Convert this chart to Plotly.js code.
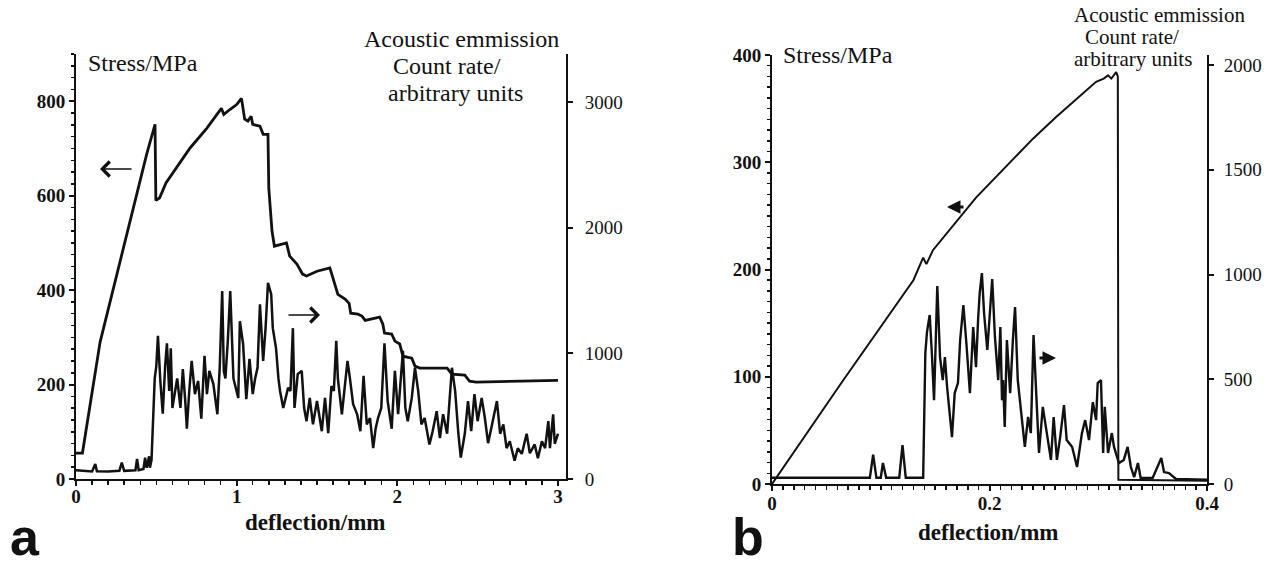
<!DOCTYPE html>
<html>
<head>
<meta charset="utf-8">
<script src="https://cdn.plot.ly/plotly-3.0.1.min.js"></script>
<style>html,body{margin:0;padding:0;background:#fff;}#chart{width:1276px;height:568px;}</style>
</head>
<body>
<div id="chart"></div>
<script>
// ---------- Panel a: stress vs deflection ----------
const aStressDefl = [0,0.04,0.15,0.26,0.355,0.44,0.492,0.497,0.52,0.56,0.71,0.815,0.905,0.92,0.96,1.0,1.03,1.05,1.07,1.09,1.10,1.145,1.165,1.195,1.20,1.22,1.235,1.28,1.31,1.33,1.375,1.41,1.435,1.50,1.58,1.60,1.63,1.675,1.70,1.71,1.755,1.78,1.80,1.89,1.91,1.92,1.965,1.985,2.015,2.035,2.09,2.11,2.14,2.31,2.34,2.42,2.45,2.49,2.74,3.0];
const aStress = [55,55,290,440,574,688,751,590,595,627,701,743,785,772,783,793,806,762,758,768,751,747,730,730,616,525,493,497,500,472,455,434,430,440,447,425,391,381,372,351,349,345,336,343,328,309,307,292,286,260,256,239,235,235,222,220,207,205,207,209];

// ---------- Panel a: acoustic emission count rate ----------
const aAEDefl = [0,0.05,0.10,0.12,0.13,0.20,0.27,0.285,0.30,0.37,0.38,0.39,0.42,0.43,0.44,0.455,0.46,0.47,0.48,0.49,0.50,0.51,0.525,0.54,0.555,0.566,0.58,0.59,0.60,0.615,0.63,0.65,0.665,0.68,0.69,0.705,0.72,0.74,0.76,0.78,0.80,0.815,0.83,0.855,0.88,0.895,0.91,0.92,0.93,0.945,0.96,0.98,1.0,1.01,1.02,1.04,1.06,1.08,1.10,1.115,1.13,1.145,1.165,1.18,1.195,1.215,1.225,1.245,1.26,1.27,1.29,1.32,1.335,1.35,1.36,1.38,1.405,1.42,1.435,1.455,1.475,1.50,1.53,1.55,1.57,1.59,1.605,1.62,1.63,1.655,1.67,1.69,1.705,1.725,1.75,1.77,1.79,1.81,1.83,1.85,1.865,1.88,1.90,1.92,1.94,1.965,1.985,2.005,2.035,2.05,2.065,2.09,2.11,2.13,2.15,2.17,2.20,2.22,2.245,2.265,2.285,2.31,2.34,2.36,2.38,2.395,2.42,2.44,2.46,2.48,2.50,2.525,2.545,2.565,2.59,2.62,2.64,2.66,2.68,2.70,2.73,2.75,2.775,2.805,2.825,2.855,2.875,2.90,2.92,2.94,2.95,2.97,2.98,3.0];
const aAE = [70,65,60,120,62,60,65,130,65,70,160,70,80,170,90,180,90,150,480,800,900,1140,780,520,900,1080,700,1040,565,700,800,565,875,620,400,700,940,675,780,480,980,675,860,755,515,900,1495,860,800,1100,1495,800,700,645,1255,1075,635,955,675,800,885,1390,940,1200,1560,1470,1200,1040,800,700,565,725,700,1200,565,835,860,565,460,645,435,620,380,645,365,740,700,1100,800,515,700,940,800,595,515,380,820,435,485,245,400,485,565,1080,620,400,860,515,1020,565,460,645,885,700,435,485,275,380,540,325,515,360,885,700,360,170,360,620,380,675,460,645,485,285,435,620,360,435,245,300,145,245,200,360,205,275,165,300,245,460,245,515,280,360];

// ---------- Panel b: stress vs deflection ----------
const bStressDefl = [0,0.065,0.13,0.139,0.142,0.145,0.148,0.1876,0.2,0.24,0.261,0.298,0.305,0.309,0.312,0.3165,0.318,0.3185,0.4];
const bStress = [0,96,190,211,205,212,218,267,280,322,342,375,378,381,378,384,380,4,3];

// ---------- Panel b: acoustic emission count rate ----------
const bAEDefl = [0,0.09,0.093,0.096,0.1,0.102,0.105,0.117,0.120,0.123,0.139,0.141,0.1425,0.145,0.147,0.149,0.152,0.1545,0.157,0.159,0.161,0.1655,0.168,0.171,0.173,0.176,0.179,0.182,0.185,0.1876,0.1895,0.191,0.193,0.195,0.198,0.2,0.2025,0.205,0.207,0.208,0.21,0.2115,0.2125,0.214,0.216,0.219,0.2215,0.2235,0.226,0.2295,0.2325,0.2355,0.238,0.2405,0.2435,0.2455,0.249,0.253,0.2565,0.259,0.262,0.265,0.2685,0.271,0.276,0.2805,0.285,0.288,0.2915,0.295,0.298,0.2995,0.3025,0.3045,0.306,0.309,0.3125,0.3145,0.316,0.319,0.3235,0.327,0.33,0.333,0.3365,0.339,0.35,0.358,0.3605,0.365,0.3715,0.4];
const bAE = [30,30,140,30,30,100,30,30,186,30,30,625,725,807,625,400,945,606,496,606,463,224,434,482,687,854,654,434,749,558,783,912,1007,816,640,816,978,702,558,496,749,400,496,272,687,434,687,845,496,339,177,320,243,711,339,148,368,224,115,320,115,224,377,210,177,81,243,305,210,391,305,482,496,148,368,148,243,177,148,100,115,177,81,33,100,29,29,124,57,52,24,20];

// ---------- text ----------
const xTitle = "deflection/mm";
const stressTitle = "Stress/MPa";
const aeTitleLines = ["Acoustic emmission", "Count rate/", "arbitrary units"];
const panelLabels = ["a", "b"];

// ---------- helpers for layout placement (pixels -> paper) ----------
const W = 1276, H = 568;
const PX = x => x / W;
const PY = y => 1 - y / H;

const serif = "Liberation Serif, Times New Roman, serif";

const traces = [
  {x: aStressDefl, y: aStress, xaxis: "x", yaxis: "y", mode: "lines", line: {color: "#111", width: 2.8}, hoverinfo: "skip"},
  {x: aAEDefl, y: aAE, xaxis: "x", yaxis: "y2", mode: "lines", line: {color: "#111", width: 2.5}, hoverinfo: "skip"},
  {x: bStressDefl, y: bStress, xaxis: "x2", yaxis: "y3", mode: "lines", line: {color: "#111", width: 2}, hoverinfo: "skip"},
  {x: bAEDefl, y: bAE, xaxis: "x2", yaxis: "y4", mode: "lines", line: {color: "#111", width: 2.4}, hoverinfo: "skip"}
];

const tickFontB = {family: serif, size: 19, color: "#111", weight: "bold"};
const tickFontN = {family: serif, size: 19, color: "#111"};
const baseAxis = {
  showline: true, linecolor: "#111", linewidth: 2, showgrid: false, zeroline: false,
  ticks: "outside", tickcolor: "#111", tickwidth: 2, ticklen: 6, fixedrange: true
};

const layout = {
  width: W, height: H, margin: {l: 0, r: 0, t: 0, b: 0},
  paper_bgcolor: "#fff", plot_bgcolor: "rgba(0,0,0,0)", showlegend: false,
  xaxis: Object.assign({}, baseAxis, {
    domain: [PX(76), PX(566)], range: [0, 3.05], anchor: "y", tick0: 0, dtick: 1, ticklen: 5,
    minor: {dtick: 0.1, ticks: "outside", ticklen: 4, tickwidth: 1.5, tickcolor: "#111", showgrid: false},
    tickfont: tickFontB, ticklabelstandoff: -6
  }),
  yaxis: Object.assign({}, baseAxis, {
    domain: [PY(479), PY(54)], range: [0, 900], anchor: "x", tick0: 0, dtick: 200, ticklen: 5,
    minor: {dtick: 25, ticks: "outside", ticklen: 3, tickwidth: 1.5, tickcolor: "#111", showgrid: false},
    tickfont: tickFontB, ticklabelstandoff: 0
  }),
  yaxis2: Object.assign({}, baseAxis, {
    overlaying: "y", side: "right", anchor: "x", range: [0, 3381], tick0: 0, dtick: 1000, ticklen: 5,
    tickfont: tickFontN, ticklabelstandoff: 8
  }),
  xaxis2: Object.assign({}, baseAxis, {
    domain: [PX(772), PX(1207)], range: [0, 0.4], anchor: "y3", tick0: 0, dtick: 0.2, ticklen: 5,
    minor: {dtick: 0.01, ticks: "outside", ticklen: 4, tickwidth: 1.5, tickcolor: "#111", showgrid: false},
    tickfont: tickFontB, ticklabelstandoff: -4
  }),
  yaxis3: Object.assign({}, baseAxis, {
    domain: [PY(484), PY(55)], range: [0, 400], anchor: "x2", tick0: 0, dtick: 100, ticklen: 5,
    minor: {dtick: 10, ticks: "outside", ticklen: 3, tickwidth: 1.5, tickcolor: "#111", showgrid: false},
    tickfont: tickFontB, ticklabelstandoff: 0
  }),
  yaxis4: Object.assign({}, baseAxis, {
    overlaying: "y3", side: "right", anchor: "x2", range: [0, 2048], tick0: 0, dtick: 500, ticklen: 5,
    tickfont: tickFontN, ticklabelstandoff: 6
  }),
  annotations: []
};

function txt(text, x, y, xanchor, size, bold, family, yanchor) {
  layout.annotations.push({
    xref: "paper", yref: "paper", x: PX(x), y: PY(y), xanchor: xanchor, yanchor: yanchor || "middle",
    text: text, showarrow: false, borderpad: 0,
    font: {family: family || serif, size: size, color: "#111", weight: bold ? "bold" : "normal"}
  });
}
function arrow(hx, hy, tx, ty, head, width, size) {
  layout.annotations.push({
    xref: "paper", yref: "paper", x: PX(hx), y: PY(hy), ax: tx - hx, ay: ty - hy,
    text: "", showarrow: true, arrowhead: head, arrowwidth: width, arrowsize: size, arrowcolor: "#111", standoff: 0
  });
}

// panel a texts
txt(stressTitle, 87, 63, "left", 24, false);
txt(aeTitleLines[0], 461, 39, "center", 24, false);
txt(aeTitleLines[1], 447, 66, "center", 24, false);
txt(aeTitleLines[2], 455, 93, "center", 24, false);
txt(xTitle, 315, 522, "center", 23, true);
txt(panelLabels[0], 25, 567, "center", 52, true, "Liberation Sans, Arial, sans-serif", "bottom");
arrow(100, 169, 133, 169, 4, 1.6, 1.8);
arrow(320, 315, 287, 315, 4, 1.6, 1.8);

// panel b texts
txt(stressTitle, 782, 55, "left", 24, false);
txt(aeTitleLines[0], 1073, 15, "left", 21, false);
txt(aeTitleLines[1], 1084, 37, "left", 21, false);
txt(aeTitleLines[2], 1073, 59, "left", 21, false);
txt(xTitle, 988, 532, "center", 23, true);
txt(panelLabels[1], 748, 567, "center", 52, true, "Liberation Sans, Arial, sans-serif", "bottom");
arrow(947, 207, 965, 207, 2, 3, 0.9);
arrow(1056, 358, 1038, 358, 2, 3, 0.9);

Plotly.newPlot("chart", traces, layout, {staticPlot: true, displayModeBar: false});
</script>
</body>
</html>
